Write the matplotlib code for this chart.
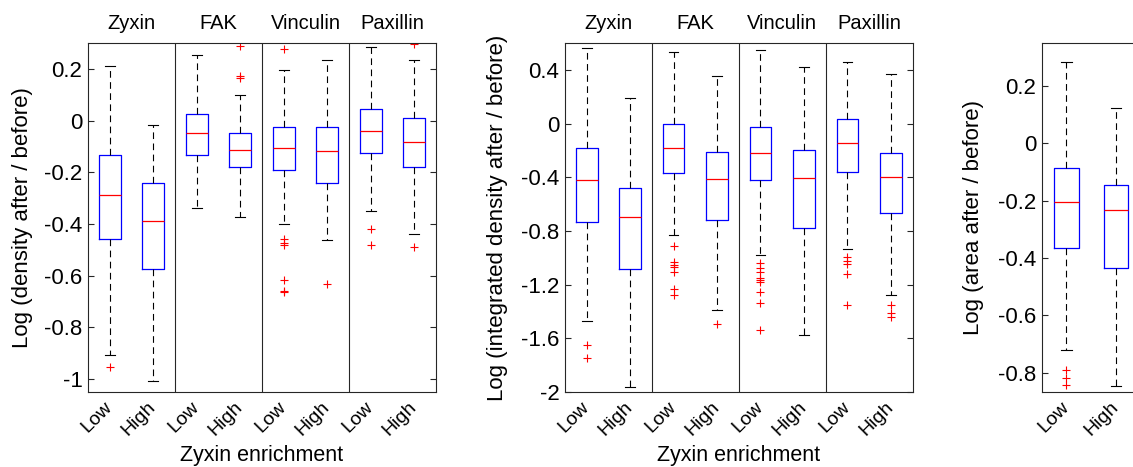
import numpy as np
import matplotlib
matplotlib.use('Agg')
import matplotlib.pyplot as plt

plt.rcParams['font.family'] = ['Liberation Sans', 'DejaVu Sans']
plt.rcParams['axes.unicode_minus'] = False

groups = ['Zyxin', 'FAK', 'Vinculin', 'Paxillin']
levels = ['Low', 'High']

### Log (density after / before), order: Zyxin Low, Zyxin High, FAK Low, ...
dens_whishi = [0.213, -0.018, 0.252, 0.098, 0.196, 0.233, 0.284, 0.234]
dens_q3 = [-0.134, -0.243, 0.025, -0.047, -0.024, -0.026, 0.043, 0.010]
dens_med = [-0.287, -0.389, -0.048, -0.115, -0.107, -0.119, -0.041, -0.081]
dens_q1 = [-0.459, -0.574, -0.132, -0.178, -0.191, -0.242, -0.125, -0.178]
dens_whislo = [-0.907, -1.006, -0.337, -0.373, -0.402, -0.461, -0.348, -0.437]
dens_fliers = [[-0.953], [], [], [0.288, 0.173, 0.163],
               [0.275, -0.459, -0.472, -0.483, -0.616, -0.659, -0.665],
               [-0.634], [-0.419, -0.483], [0.298, -0.490]]

### Log (integrated density after / before)
intd_whishi = [0.564, 0.194, 0.531, 0.354, 0.551, 0.419, 0.461, 0.372]
intd_q3 = [-0.179, -0.479, -0.002, -0.212, -0.027, -0.197, 0.033, -0.219]
intd_med = [-0.423, -0.693, -0.182, -0.416, -0.222, -0.408, -0.142, -0.396]
intd_q1 = [-0.730, -1.087, -0.366, -0.718, -0.423, -0.775, -0.364, -0.670]
intd_whislo = [-1.471, -1.960, -0.832, -1.386, -0.977, -1.575, -0.937, -1.281]
intd_fliers = [[-1.653, -1.743], [],
               [-0.912, -1.034, -1.055, -1.072, -1.107, -1.234, -1.276],
               [-1.491],
               [-1.037, -1.074, -1.107, -1.149, -1.169, -1.182, -1.254, -1.334, -1.536],
               [], [-0.995, -1.022, -1.049, -1.119, -1.349],
               [-1.354, -1.411, -1.443]]

### Log (area after / before), Zyxin only
area_whishi = [0.282, 0.124]
area_q3 = [-0.085, -0.146]
area_med = [-0.205, -0.233]
area_q1 = [-0.366, -0.434]
area_whislo = [-0.720, -0.848]
area_fliers = [[-0.790, -0.820, -0.842], []]


def make_stats(whishi, q3, med, q1, whislo, fliers):
    return [dict(whishi=a, q3=b, med=c, q1=d, whislo=e, fliers=f)
            for a, b, c, d, e, f in zip(whishi, q3, med, q1, whislo, fliers)]


def draw_boxes(ax, stats):
    pos = np.arange(1, len(stats) + 1)
    ax.bxp(stats, positions=pos, widths=0.5, showfliers=True,
           capwidths=0.22,
           boxprops=dict(color='blue', lw=0.9),
           medianprops=dict(color='red', lw=0.9),
           whiskerprops=dict(color='black', lw=0.8, linestyle=(0, (6, 4))),
           capprops=dict(color='black', lw=0.8),
           flierprops=dict(marker='+', markeredgecolor='red', markersize=6,
                           markeredgewidth=0.8, linestyle='none'))
    ax.set_xlim(0.5, len(stats) + 0.5)
    ax.set_xticks(pos)
    ax.set_xticklabels(levels * (len(stats) // 2), rotation=45, ha='right',
                       va='center', rotation_mode='anchor', fontsize=14)
    ax.tick_params(axis='x', length=0, pad=9)
    ax.tick_params(axis='y', direction='in', left=True, right=True,
                   length=4, labelsize=16, color='#262626', pad=4)
    for s in ax.spines.values():
        s.set_color('#262626')
        s.set_linewidth(0.8)


def finish(ax, yticks, ylabel, xlab, with_groups):
    ax.set_yticks(yticks)
    ax.set_yticklabels(['%g' % t for t in yticks])
    ax.set_ylabel(ylabel, fontsize=16)
    ax.yaxis.set_label_coords(xlab, 0.5)
    if with_groups:
        for k, g in enumerate(groups):
            ax.annotate(g, xy=(2 * k + 1.5, 1), xycoords=('data', 'axes fraction'),
                        xytext=(0, 10), textcoords='offset points',
                        ha='center', va='baseline', fontsize=14.5)
            if k > 0:
                ax.axvline(2 * k + 0.5, color='#262626', lw=0.8)
        ax.annotate('Zyxin enrichment', xy=(0.5, 0), xycoords='axes fraction',
                    xytext=(0, -50), textcoords='offset points',
                    ha='center', va='baseline', fontsize=15.5)


fig = plt.figure(figsize=(11.33, 4.67), dpi=100)
ax1 = fig.add_axes([0.0777, 0.1606, 0.3071, 0.7473])
ax2 = fig.add_axes([0.4987, 0.1606, 0.3067, 0.7473])
ax3 = fig.add_axes([0.9194, 0.1606, 0.0874, 0.7473])

draw_boxes(ax1, make_stats(dens_whishi, dens_q3, dens_med, dens_q1, dens_whislo, dens_fliers))
ax1.set_ylim(-1.05, 0.3)
finish(ax1, [-1, -0.8, -0.6, -0.4, -0.2, 0, 0.2], 'Log (density after / before)', -0.158, True)

draw_boxes(ax2, make_stats(intd_whishi, intd_q3, intd_med, intd_q1, intd_whislo, intd_fliers))
ax2.set_ylim(-2, 0.6)
finish(ax2, [-2, -1.6, -1.2, -0.8, -0.4, 0, 0.4], 'Log (integrated density after / before)', -0.164, True)

draw_boxes(ax3, make_stats(area_whishi, area_q3, area_med, area_q1, area_whislo, area_fliers))
ax3.set_ylim(-0.868, 0.35)
finish(ax3, [-0.8, -0.6, -0.4, -0.2, 0, 0.2], 'Log (area after / before)', -0.583, False)

fig.savefig('out.png', dpi=100)
